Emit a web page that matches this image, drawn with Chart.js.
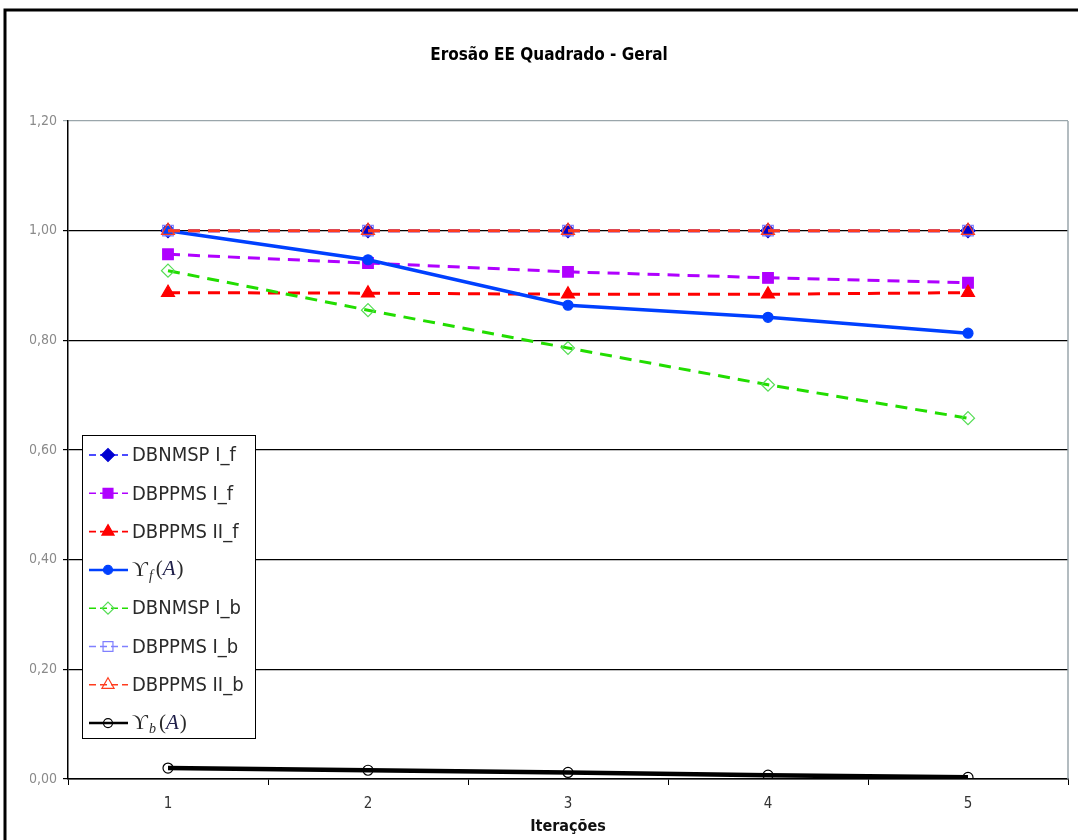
<!DOCTYPE html>
<html>
<head>
<meta charset="utf-8">
<script src="https://cdn.jsdelivr.net/npm/chart.js@4"></script>
<style>
  body { margin: 0; background: #fff; }
  #wrap { width: 1078px; height: 840px; position: relative; }
</style>
</head>
<body>
<div id="wrap"><canvas id="lineChart"></canvas></div>
<script>
// values
const categories = ['1', '2', '3', '4', '5'];
const yTicks = [0, 0.2, 0.4, 0.6, 0.8, 1.0, 1.2];

const dbnmspIf = [1.000, 1.000, 1.000, 1.000, 1.000];
const dbppmsIf = [0.957, 0.941, 0.925, 0.914, 0.905];
const dbppmsIIf = [0.887, 0.886, 0.884, 0.884, 0.887];
const upsilonF = [1.000, 0.947, 0.864, 0.842, 0.813];
const dbnmspIb = [0.927, 0.855, 0.786, 0.719, 0.658];
const dbppmsIb = [1.000, 1.000, 1.000, 1.000, 1.000];
const dbppmsIIb = [1.000, 1.000, 1.000, 1.000, 1.000];
const upsilonB = [0.020, 0.016, 0.012, 0.007, 0.003];

const narrow = '"Liberation Sans Narrow", "DejaVu Sans Condensed", "Liberation Sans", sans-serif';
const dash = [12, 8];

function series(label, data, color, style, radius, fill, pointColor, width, dashed) {
    return {
        label: label,
        data: data,
        borderColor: color,
        backgroundColor: fill,
        borderWidth: width,
        borderDash: dashed ? dash : [],
        pointStyle: style,
        pointRadius: radius,
        pointBackgroundColor: fill,
        pointBorderColor: pointColor,
        pointBorderWidth: 1.2,
        tension: 0,
        fill: false
    };
}

let datasets = [
    series('DBNMSP I_f', dbnmspIf, '#1010ff', 'rectRot', 7, '#0000d0', '#0000d0', 3, true),
    series('DBPPMS I_f', dbppmsIf, '#b000ff', 'rect', 7.5, '#b000ff', '#b000ff', 3, true),
    series('DBPPMS II_f', dbppmsIIf, '#ff0000', 'triangle', 7.5, '#ff0000', '#ff0000', 3, true),
    series('ϒf(A)', upsilonF, '#0040ff', 'circle', 5, '#0040ff', '#0040ff', 3.5, false),
    series('DBNMSP I_b', dbnmspIb, '#22dd00', 'rectRot', 6.5, 'rgba(255,255,255,0)', '#55dd55', 3, true),
    series('DBPPMS I_b', dbppmsIb, '#8080ff', 'rect', 7.5, 'rgba(255,255,255,0)', '#8080ff', 3, true),
    series('DBPPMS II_b', dbppmsIIb, '#ff3c1e', 'triangle', 7.5, 'rgba(255,255,255,0)', '#ff3c1e', 3, true),
    series('ϒb(A)', upsilonB, '#000000', 'circle', 5, 'rgba(255,255,255,0)', '#000000', 4.5, false)
];
// later series on top, like the original
datasets.forEach((d, i) => { d.order = datasets.length - i; });

const framePlugin = {
    id: 'frame',
    beforeDraw(chart) {
        const c = chart.ctx;
        c.save();
        c.fillStyle = '#fff';
        c.fillRect(0, 0, chart.width, chart.height);
        c.strokeStyle = '#000';
        c.lineWidth = 3;
        c.beginPath();
        c.moveTo(5, chart.height);
        c.lineTo(5, 10);
        c.lineTo(chart.width, 10);
        c.stroke();
        c.restore();
    },
    afterDatasetsDraw(chart) {
        const a = chart.chartArea;
        const c = chart.ctx;
        c.save();
        c.strokeStyle = '#9aa6ab';
        c.lineWidth = 1.5;
        c.beginPath();
        c.moveTo(a.right, a.top);
        c.lineTo(a.right, a.bottom);
        c.stroke();
        c.restore();
    }
};

// legend box sitting inside the plot, lower left
const boxLegend = {
    id: 'boxLegend',
    afterDraw(chart) {
        const c = chart.ctx;
        const x0 = 82.5, y0 = 435.5, w = 173, h = 303;
        c.save();
        c.fillStyle = '#fff';
        c.fillRect(x0, y0, w, h);
        c.strokeStyle = '#000';
        c.lineWidth = 1;
        c.strokeRect(x0, y0, w, h);
        chart.data.datasets.forEach((d, i) => {
            const y = 455 + i * 38.3;
            c.strokeStyle = d.borderColor;
            c.lineWidth = d.borderDash.length ? 1.6 : 2.5;
            c.setLineDash(d.borderDash.length ? [7, 4] : []);
            c.beginPath();
            c.moveTo(89, y);
            c.lineTo(128, y);
            c.stroke();
            c.setLineDash([]);
            c.fillStyle = d.pointBackgroundColor;
            c.strokeStyle = d.pointBorderColor;
            c.lineWidth = 1.2;
            Chart.helpers.drawPoint(c, { pointStyle: d.pointStyle, radius: d.pointRadius - 0.5, rotation: 0, borderWidth: 1.2 }, 108, y);
            c.fillStyle = '#2a2a2a';
            c.textBaseline = 'middle';
            c.textAlign = 'left';
            if (d.label.startsWith('ϒ')) {
                let tx = 132;
                c.font = '22px "Liberation Serif", "DejaVu Serif", serif';
                c.fillText('ϒ', tx, y);
                tx += c.measureText('ϒ').width + 1;
                c.font = 'italic 14px "Liberation Serif", "DejaVu Serif", serif';
                c.fillText(d.label.charAt(1), tx, y + 6);
                tx += c.measureText(d.label.charAt(1)).width + 3;
                c.font = '21px "Liberation Serif", "DejaVu Serif", serif';
                c.fillText('(', tx, y);
                tx += c.measureText('(').width;
                c.font = 'italic 21px "Liberation Serif", "DejaVu Serif", serif';
                c.fillStyle = '#20204a';
                c.fillText('A', tx, y);
                tx += c.measureText('A').width + 1;
                c.fillStyle = '#2a2a2a';
                c.font = '21px "Liberation Serif", "DejaVu Serif", serif';
                c.fillText(')', tx, y);
            } else {
                c.font = '20px ' + narrow;
                c.fillText(d.label, 132, y + 1);
            }
        });
        c.restore();
    }
};

const ctx = document.getElementById('lineChart');

new Chart(ctx, {
    type: 'line',
    data: {
        labels: categories,
        datasets: datasets
    },
    options: {
        responsive: true,
        maintainAspectRatio: false,
        animation: false,
        layout: { padding: { left: 30, right: 10, top: 0, bottom: 0 } },
        plugins: {
            legend: { display: false },
            tooltip: { enabled: false },
            title: {
                display: true,
                text: 'Erosão EE Quadrado - Geral',
                color: '#000',
                font: { family: narrow, size: 17, weight: 'bold', lineHeight: 1.2 },
                padding: { top: 45, bottom: 55.6 }
            }
        },
        scales: {
            x: {
                offset: true,
                grid: { offset: true, drawOnChartArea: false, drawTicks: true, tickLength: 6, color: '#000' },
                border: { display: true, color: '#000', width: 1.5 },
                ticks: { color: '#333', padding: 10, font: { family: narrow, size: 15 } },
                title: {
                    display: true,
                    text: 'Iterações',
                    color: '#111',
                    font: { family: narrow, size: 16, weight: 'bold', lineHeight: 1.2 },
                    padding: { top: 0, bottom: 4 }
                },
                afterFit(s) { s.height = 61; }
            },
            y: {
                min: 0,
                max: 1.2,
                afterBuildTicks(s) { s.ticks = yTicks.map(v => ({ value: v })); },
                grid: {
                    tickLength: 5,
                    lineWidth: 1.2,
                    color: (c) => (c.tick && Math.abs(c.tick.value - 1.2) < 1e-6) ? '#9aa6ab' : '#000'
                },
                border: { display: true, color: '#000', width: 1.5 },
                ticks: {
                    color: '#8a8a8a',
                    padding: 6,
                    font: { family: narrow, size: 14 },
                    callback: (v) => Number(v).toFixed(2).replace('.', ',')
                },
                afterFit(s) { s.width = 38; }
            }
        }
    },
    plugins: [framePlugin, boxLegend]
});
</script>
</body>
</html>
